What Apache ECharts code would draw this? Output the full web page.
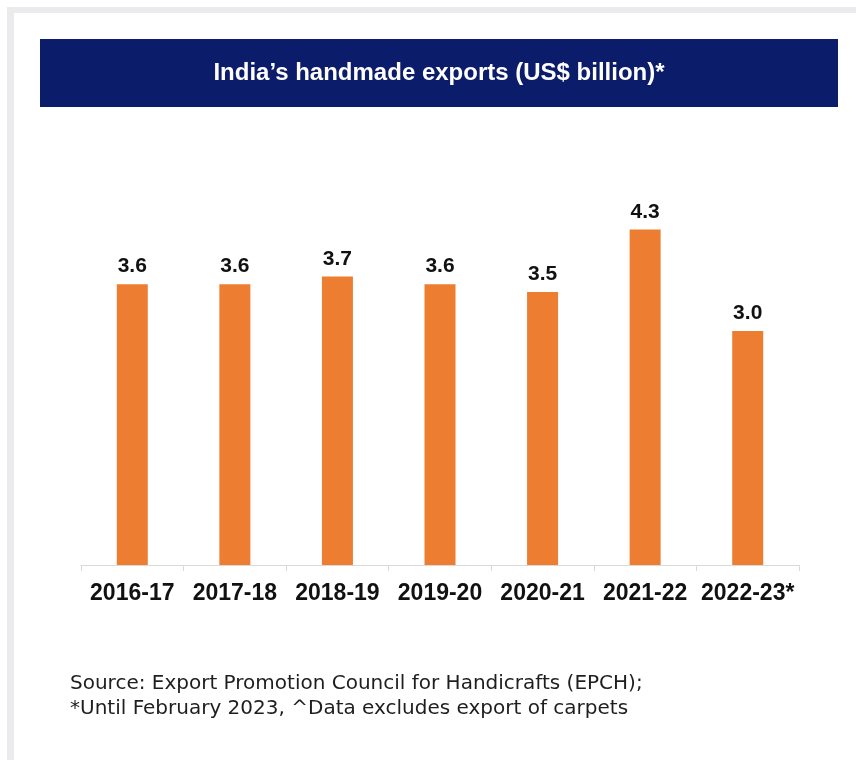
<!DOCTYPE html>
<html>
<head>
<meta charset="utf-8">
<script src="https://cdn.jsdelivr.net/npm/echarts@6/dist/echarts.min.js"></script>
<style>
  html, body { margin: 0; padding: 0; background: #ffffff; }
  #chart { width: 856px; height: 760px; }
</style>
</head>
<body>
<div id="chart"></div>
<script>
const titleText = "India\u2019s handmade exports (US$ billion)*";
const categories = ["2016-17", "2017-18", "2018-19", "2019-20", "2020-21", "2021-22", "2022-23*"];
const exportsValues = [3.6, 3.6, 3.7, 3.6, 3.5, 4.3, 3.0];
const footerLines = [
  "Source: Export Promotion Council for Handicrafts (EPCH);",
  "*Until February 2023, ^Data excludes export of carpets"
];

const chart = echarts.init(document.getElementById('chart'), null, { renderer: 'canvas' });
const sans = "'Liberation Sans', Arial, sans-serif";

chart.setOption({
  backgroundColor: '#ffffff',
  animation: false,
  graphic: [
    { type: 'rect', left: 7, top: 7, shape: { width: 7, height: 753 }, style: { fill: '#ebebee' }, silent: true },
    { type: 'rect', left: 7, top: 7, shape: { width: 849, height: 6 }, style: { fill: '#ebebee' }, silent: true },
    { type: 'rect', left: 40, top: 39, shape: { width: 798, height: 68 }, style: { fill: '#0b1c6b' }, silent: true },
    {
      type: 'text', x: 439, y: 73,
      style: { text: titleText, fill: '#ffffff', font: "bold 24px 'Liberation Sans', Arial, sans-serif", align: 'center', verticalAlign: 'middle' },
      silent: true
    },
    {
      type: 'text', left: 70, top: 671,
      style: { text: footerLines.join('\n'), fill: '#1e1e1e', font: "20px 'DejaVu Sans', sans-serif", lineHeight: 25 },
      silent: true
    }
  ],
  grid: { left: 81, right: 57, top: 175, bottom: 195, containLabel: false },
  xAxis: {
    type: 'category',
    data: categories,
    axisLine: { show: true, lineStyle: { color: '#d9d9d9', width: 1 } },
    axisTick: { show: true, length: 6, lineStyle: { color: '#d9d9d9' } },
    axisLabel: { interval: 0, color: '#111111', fontFamily: sans, fontWeight: 'bold', fontSize: 23, margin: 17 }
  },
  yAxis: {
    type: 'value', min: 0, max: 5,
    show: false,
    splitLine: { show: false }
  },
  series: [{
    type: 'bar',
    data: exportsValues,
    barWidth: 31,
    itemStyle: { color: '#ed7d31' },
    label: {
      show: true, position: 'top', distance: 7,
      formatter: p => p.value.toFixed(1),
      color: '#111111', fontFamily: sans, fontWeight: 'bold', fontSize: 21
    }
  }]
});
</script>
</body>
</html>
